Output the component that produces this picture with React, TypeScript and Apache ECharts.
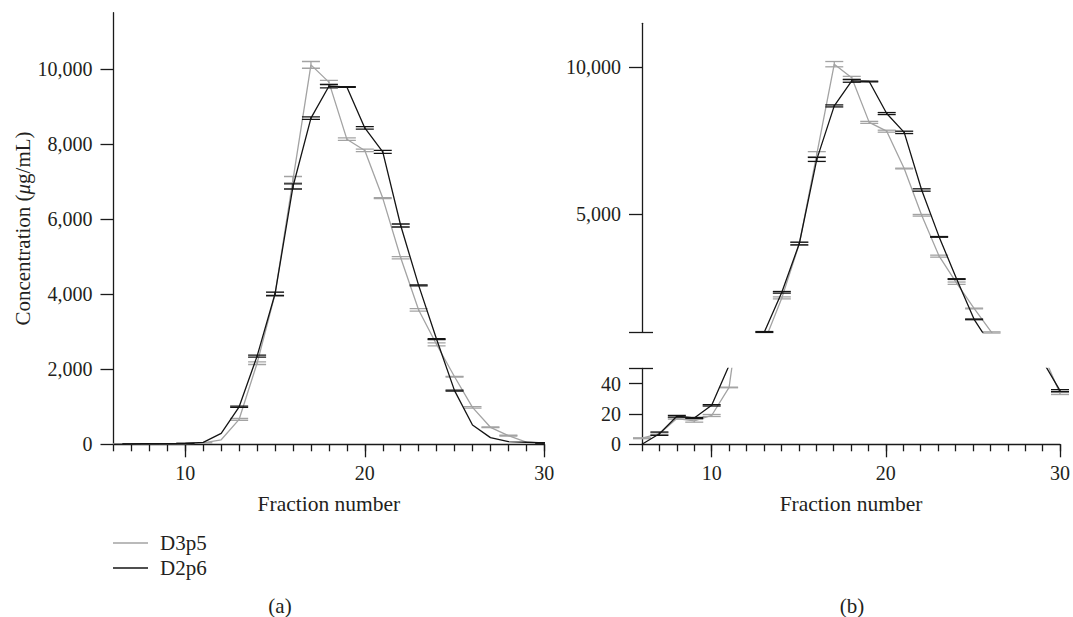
import React, { useEffect, useRef } from "react";
import * as echarts from "echarts";

// ---- data ----
const fractions = [6, 7, 8, 9, 10, 11, 12, 13, 14, 15, 16, 17, 18, 19, 20, 21, 22, 23, 24, 25, 26, 27, 28, 29, 30];
const d3p5Mean = [4, 7, 17, 15.5, 19, 37.5, 120, 666, 2160, 4000, 7050, 10110, 9650, 8130, 7830, 6560, 4970, 3580, 2660, 1800, 985, 453, 231, 60, 33.5];
const d3p5Sd = [0.3, 0.6, 0.45, 0.9, 0.66, 0.2, null, 25, 34, 50, 85, 90, 45, 34, 34, 12, 28, 34, 40, 12, 20, 10, 10, null, 0.66];
const d2p6Mean = [0, 7, 18.5, 17.4, 25.7, 52, 290, 1000, 2350, 4010, 6870, 8690, 9540, 9520, 8430, 7790, 5830, 4235, 2800, 1430, 515, 178, 71, 55, 35.4];
const d2p6Sd = [null, 1.1, 0.55, 0.3, 0.45, null, null, 15, 28, 45, 68, 34, 45, 12, 34, 40, 40, 12, 12, 12, null, null, null, null, 0.66];

const seriesNames = ["D3p5", "D2p6"];
const seriesColors = ["#a3a3a3", "#141414"];
const leftYTicks = [0, 2000, 4000, 6000, 8000, 10000];
const upperYTicks = [1000, 5000, 10000];
const upperYLabels = [5000, 10000];
const lowerYTicks = [0, 20, 40, 50];
const lowerYLabels = [0, 20, 40];
const majorX = [10, 20, 30];

const FONT = "'Liberation Serif', 'Times New Roman', serif";
const AX = "#1a1a1a";
const TXT = "#231f20";

const fmt = (v: number) => Number(v).toLocaleString("en-US");

function xAxes(gridIndex: number, withName: boolean, show: boolean) {
  const base = { type: "value", gridIndex, min: 6, max: 30, splitLine: { show: false } } as any;
  if (!show) return [{ ...base, show: false }];
  return [
    {
      ...base,
      position: "bottom",
      interval: 1,
      axisLine: { show: true, onZero: false, lineStyle: { color: AX, width: 1.3 } },
      axisTick: { show: true, length: 7, lineStyle: { color: AX, width: 1.3 } },
      axisLabel: {
        show: true,
        margin: 19,
        fontFamily: FONT,
        fontSize: 20,
        color: TXT,
        formatter: (v: number) => (v % 10 === 0 ? String(v) : ""),
      },
      name: withName ? "Fraction number" : "",
      nameLocation: "middle",
      nameGap: 49,
      nameTextStyle: { fontFamily: FONT, fontSize: 21.5, color: TXT },
    },
    {
      ...base,
      position: "bottom",
      axisLine: { show: false, onZero: false },
      axisTick: { show: true, length: 13, customValues: majorX, lineStyle: { color: AX, width: 1.3 } },
      axisLabel: { show: false },
    },
  ];
}

function yAxis(gridIndex: number, min: number, max: number, ticks: number[], labels: number[], extra: any = {}) {
  return {
    type: "value",
    gridIndex,
    min,
    max,
    position: "left",
    splitLine: { show: false },
    axisLine: { show: true, onZero: false, lineStyle: { color: AX, width: 1.3 } },
    axisTick: { show: true, length: 13, customValues: ticks, lineStyle: { color: AX, width: 1.3 } },
    axisLabel: {
      show: true,
      margin: 21,
      customValues: labels,
      fontFamily: FONT,
      fontSize: 20,
      color: TXT,
      formatter: (v: number) => fmt(v),
    },
    ...extra,
  };
}

function innerTickAxis(gridIndex: number, min: number, max: number, ticks: number[]) {
  return {
    type: "value",
    gridIndex,
    min,
    max,
    position: "left",
    splitLine: { show: false },
    axisLine: { show: false, onZero: false },
    axisTick: { show: true, inside: true, length: 11, customValues: ticks, lineStyle: { color: AX, width: 1.3 } },
    axisLabel: { show: false },
  };
}

function lineSeries(xi: number, yi: number) {
  const means = [d3p5Mean, d2p6Mean];
  return means.map((m, k) => ({
    type: "line",
    name: seriesNames[k],
    xAxisIndex: xi,
    yAxisIndex: yi,
    data: fractions.map((f, i) => [f, m[i]]),
    showSymbol: false,
    symbol: "none",
    clip: true,
    color: seriesColors[k],
    lineStyle: { color: seriesColors[k], width: 1.3 },
    z: k === 1 ? 3 : 2,
  }));
}

// error bars; lo/hi restrict to the bars that fall inside the panel's value range
function errSeries(xi: number, yi: number, lo: number, hi: number, clip: boolean) {
  const means = [d3p5Mean, d2p6Mean];
  const sds = [d3p5Sd, d2p6Sd];
  return means.map((m, k) => ({
    type: "custom",
    name: seriesNames[k],
    xAxisIndex: xi,
    yAxisIndex: yi,
    clip,
    z: k === 1 ? 4 : 3,
    encode: { x: 0, y: 1 },
    data: fractions
      .map((f, i) => [f, m[i], sds[k][i]])
      .filter((d) => d[2] !== null && (d[1] as number) + (d[2] as number) >= lo && (d[1] as number) - (d[2] as number) <= hi),
    renderItem: (params: any, api: any) => {
      const x = api.value(0);
      const y = api.value(1);
      const e = api.value(2);
      const top = api.coord([x, y + e]);
      const bot = api.coord([x, y - e]);
      const hw = 9;
      const style = { stroke: seriesColors[k], lineWidth: 1.3 };
      return {
        type: "group",
        children: [
          { type: "line", shape: { x1: top[0] - hw, y1: top[1], x2: top[0] + hw, y2: top[1] }, style },
          { type: "line", shape: { x1: bot[0] - hw, y1: bot[1], x2: bot[0] + hw, y2: bot[1] }, style },
          { type: "line", shape: { x1: top[0], y1: top[1], x2: bot[0], y2: bot[1] }, style },
        ],
      };
    },
  }));
}

export default function App() {
  const ref = useRef<HTMLDivElement>(null);
  useEffect(() => {
    if (!ref.current) return;
    const chart = echarts.init(ref.current, null, { renderer: "svg" });
    const option: any = {
      animation: false,
      backgroundColor: "#ffffff",
      textStyle: { fontFamily: FONT },
      grid: [
        { left: 113.5, top: 12.7, width: 430.8, height: 431.6 },
        { left: 642, top: 23.3, width: 419.5, height: 308.7 },
        { left: 642, top: 368.5, width: 419.5, height: 75.8 },
      ],
      xAxis: [
        ...xAxes(0, true, true), // 0,1
        ...xAxes(1, false, false), // 2
        ...xAxes(2, true, true), // 3,4
      ],
      yAxis: [
        yAxis(0, 0, 11500, leftYTicks, leftYTicks, {
          name: "{a|Concentration (}{b|μ}{a|g/mL)}",
          nameLocation: "middle",
          nameGap: 80,
          nameTextStyle: {
            fontFamily: FONT,
            fontSize: 21,
            color: TXT,
            rich: {
              a: { fontFamily: FONT, fontSize: 21, color: TXT },
              b: { fontFamily: FONT, fontSize: 21, color: TXT, fontStyle: "italic" },
            },
          },
        }), // 0
        yAxis(1, 1000, 11500, upperYTicks, upperYLabels), // 1
        innerTickAxis(1, 1000, 11500, [1000]), // 2
        yAxis(2, 0, 50, lowerYTicks, lowerYLabels), // 3
        innerTickAxis(2, 0, 50, [50]), // 4
      ],
      legend: {
        show: true,
        data: seriesNames,
        orient: "vertical",
        left: 113,
        top: 531,
        padding: 0,
        itemGap: 1,
        itemWidth: 35,
        itemHeight: 1.6,
        icon: "rect",
        selectedMode: false,
        textStyle: { fontFamily: FONT, fontSize: 21, color: TXT, lineHeight: 24, padding: [0, 0, 0, 7] },
      },
      graphic: [
        { type: "text", x: 280, y: 606, style: { text: "(a)", font: `21px ${FONT}`, fill: TXT, textAlign: "center", textVerticalAlign: "middle" } },
        { type: "text", x: 852, y: 606, style: { text: "(b)", font: `21px ${FONT}`, fill: TXT, textAlign: "center", textVerticalAlign: "middle" } },
      ],
      series: [
        ...lineSeries(0, 0),
        ...errSeries(0, 0, -Infinity, Infinity, true),
        ...lineSeries(2, 1),
        ...errSeries(2, 1, 1000, 11500, false),
        ...lineSeries(3, 3),
        ...errSeries(3, 3, 0, 50, false),
      ],
    };
    chart.setOption(option);
    return () => chart.dispose();
  }, []);
  return <div ref={ref} style={{ position: "absolute", left: 0, top: 0, width: 1073, height: 617 }} />;
}
